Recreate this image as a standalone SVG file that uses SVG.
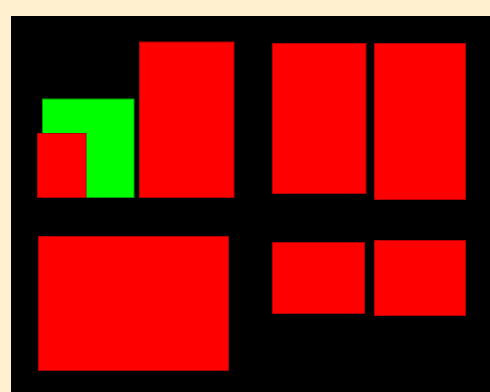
<svg xmlns="http://www.w3.org/2000/svg" width="490" height="392" viewBox="0 0 490 392">
<style>
.r{fill:#ff0000;stroke:#b00000;stroke-width:1}
.g{fill:#00ff00;stroke:#00a000;stroke-width:1}
</style>
<rect x="0" y="0" width="490" height="392" fill="#fff0d0"/>
<rect x="11" y="16" width="479" height="376" fill="#000000"/>
<g id="n1"><rect class="r" x="139.5" y="42" width="94.5" height="155.5"/></g>
<g id="n2"><rect class="g" x="42.5" y="99" width="91.5" height="98.5"/></g>
<g id="n3"><rect class="r" x="37.5" y="133.5" width="48.5" height="64"/></g>
<g id="n4"><rect class="r" x="272.5" y="43.5" width="93.5" height="150"/></g>
<g id="n5"><rect class="r" x="374.5" y="43.5" width="91" height="156"/></g>
<g id="n6"><rect class="r" x="38.5" y="236.5" width="190" height="134"/></g>
<g id="n7"><rect class="r" x="272.5" y="242.5" width="92" height="71"/></g>
<g id="n8"><rect class="r" x="374.5" y="240.5" width="91" height="75"/></g>
<g id="connectors"></g>
</svg>
